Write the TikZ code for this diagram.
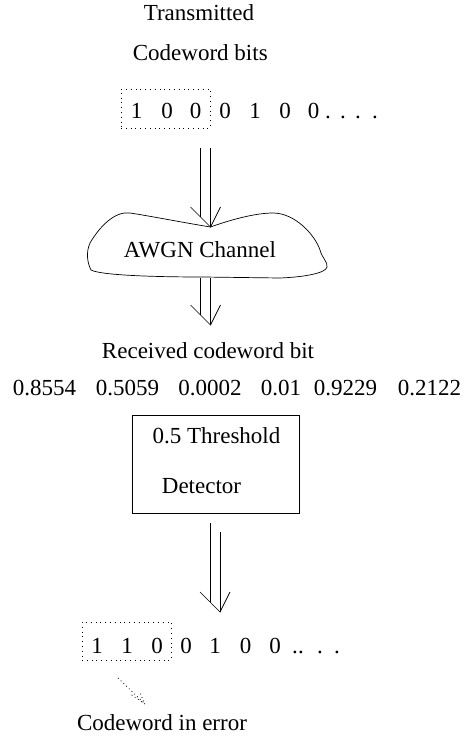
\documentclass[tikz,border=0pt]{standalone}
\usepackage{fontspec}
\setmainfont{Liberation Serif}
\usetikzlibrary{calc}
\begin{document}
\begin{tikzpicture}[x=1pt,y=-1pt,line width=0.7pt,
  txt/.style={anchor=base,inner sep=0pt,font=\fontsize{23}{27}\selectfont},
  dotbox/.style={draw,dash pattern=on 0.8pt off 4pt,line width=0.8pt},
  dotline/.style={dash pattern=on 0.8pt off 3pt,line width=0.8pt}]
\useasboundingbox (0,0) rectangle (468,738);

% top labels
\node[txt] (tx1) at (199,20.7) {Transmitted};
\node[txt] (tx2) at (200.3,60.7) {Codeword bits};

% transmitted bits
\foreach \x/\c [count=\i] in {136.5/1,167/0,195.5/0,225/0,255/1,285/0,313.5/0,328/.,343/.,358/.,375/.}
  \node[txt] (tb\i) at (\x,119) {\c};
\node[dotbox,inner sep=0pt,minimum width=89pt,minimum height=39pt] (tbox) at (165.5,108.5) {};

% arrow 1
\coordinate (a1L) at (200.5,148);
\coordinate (a1R) at (210.5,148);
\coordinate (a1T) at (210.5,227);
\draw (a1L) -- (200.5,217);
\draw (a1R) -- (a1T);
\draw ($(a1T)+(-20,-20)$) -- (a1T) -- ($(a1T)+(10,-20)$);

% cloud
\draw (210.5,227) .. controls (180,222) and (150,216) .. (130,213)
  .. controls (115,211) and (100,226) .. (90,243)
  .. controls (86,252) and (87,262) .. (91,270)
  .. controls (100,275) and (150,277) .. (203,277)
  -- (280,278)
  .. controls (305,277) and (326,273) .. (327,267)
  .. controls (328,262) and (322,258) .. (320,250)
  .. controls (315,235) and (295,213) .. (273,213)
  .. controls (255,213) and (230,220) .. (210.5,227) -- cycle;
\node[txt] (awgn) at (200,257) {AWGN Channel};

% arrow 2
\coordinate (a2L) at (200.5,278);
\coordinate (a2R) at (210.5,278);
\coordinate (a2T) at (210.5,325);
\draw (a2L) -- (200.5,315);
\draw (a2R) -- (a2T);
\draw ($(a2T)+(-20,-20)$) -- (a2T) -- ($(a2T)+(10,-20)$);

\node[txt] (rcv) at (208,358) {Received codeword bit};

% received values
\node[txt] (v1) at (44.5,395) {0.8554};
\node[txt] (v2) at (127.5,395) {0.5059};
\node[txt] (v3) at (210,395) {0.0002};
\node[txt] (v4) at (281,395) {0.01};
\node[txt] (v5) at (345.5,395) {0.9229};
\node[txt] (v6) at (429.5,395) {0.2122};

% detector
\node[draw,minimum width=167pt,minimum height=98pt,inner sep=0pt] (det) at (215.5,464) {};
\node[txt] (det1) at (216.5,443) {0.5 Threshold};
\node[txt] (det2) at (201.5,493) {Detector};

% arrow 3
\coordinate (a3L) at (210,523);
\coordinate (a3R) at (220,532);
\coordinate (a3T) at (220,612);
\draw (a3L) -- (210,602);
\draw (a3R) -- (a3T);
\draw ($(a3T)+(-20,-20)$) -- (a3T) -- ($(a3T)+(10,-20)$);

% received decoded bits
\foreach \x/\c [count=\i] in {97/1,127/1,157/0,186/0,215/1,245.5/0,275/0,295/.,301/.,320/.,337/.}
  \node[txt] (rb\i) at (\x,653) {\c};
\node[dotbox,inner sep=0pt,minimum width=89pt,minimum height=38pt] (rbox) at (126.5,641) {};

% dotted pointer
\coordinate (p0) at (118,678);
\coordinate (p1) at (145,704);
\draw[dotline] (p0) -- (p1);
\draw[dotline] (131.7,695) -- (p1) -- (139.3,691.7);

\node[txt] (err) at (162,730) {Codeword in error};
\end{tikzpicture}
\end{document}
